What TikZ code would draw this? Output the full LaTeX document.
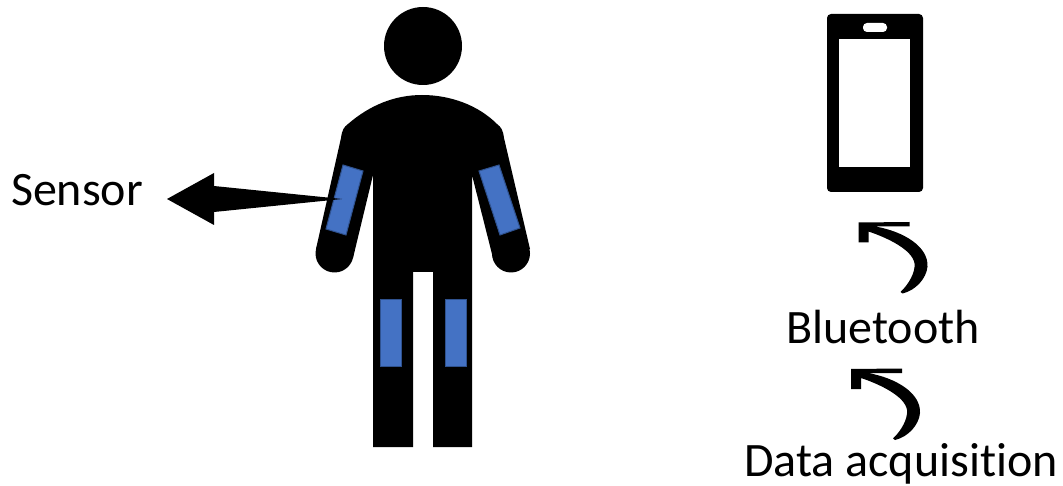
\documentclass[tikz,border=0pt]{standalone}
\usepackage{fontspec}
\setmainfont[Ligatures=CommonOff]{Carlito}
\tikzset{
  lbl/.style={inner sep=0pt,anchor=base,font=\fontsize{48}{48}\selectfont,text=black},
  sensorpatch/.style={fill=sensorblue,draw=sensoredge,line width=1pt},
  ink/.style={fill=black,draw=none}
}
\definecolor{sensorblue}{HTML}{4472C4}
\definecolor{sensoredge}{HTML}{2F528F}
\newcommand{\curvedarrow}{%
  (0,0) -- (51,-0.5) -- (51,4) -- (17,4)
  .. controls (45,9) and (70,24) .. (69,44)
  .. controls (68,56) and (57,68) .. (44,71)
  -- (42,69.5)
  .. controls (50,62) and (57,50) .. (56,41)
  .. controls (54,27) and (28,15) .. (10,9)
  -- (10,20) -- (0,20) -- cycle}
\begin{document}
\begin{tikzpicture}[x=1pt,y=-1pt]
\useasboundingbox (0,0) rectangle (1063,486);
% person
\fill[ink] (423,46) circle (39);
\fill[ink] (334.5,253.5) circle (19);
\fill[ink] (511,253.5) circle (19);
\fill[ink] (373,447) -- (373,175) -- (353,258) -- (316,249)
  -- (341,138) .. controls (342,130) and (344,127) .. (348,124)
  .. controls (370,105) and (395,95) .. (422,95)
  .. controls (450,95) and (478,105) .. (497,124)
  .. controls (501,127) and (503,130) .. (504,138)
  -- (530,249) -- (493,258)
  -- (472,175) -- (472,447) -- (433,447) -- (433,272) -- (413,272) -- (413,447) -- cycle;
% sensors
\draw[sensorpatch] (343,165) -- (363,171) -- (346,235) -- (326,229) -- cycle;
\draw[sensorpatch] (479,171) -- (499,165) -- (520,228) -- (500,235) -- cycle;
\draw[sensorpatch] (380,300) rectangle (401,366);
\draw[sensorpatch] (445,300) rectangle (466,366);
% pointer
\fill[ink] (167,199) -- (214,173) -- (214,186) -- (342,199) -- (214,212) -- (214,225) -- cycle;
% phone
\fill[ink,rounded corners=4pt] (827,14) rectangle (923,192);
\fill[white] (839,39) rectangle (910,167);
\fill[white,rounded corners=4pt] (863,23) rectangle (887,32);
% curved arrows
\begin{scope}[shift={(858.5,222.5)}]\fill[ink] \curvedarrow;\end{scope}
\begin{scope}[shift={(851,369)}]\fill[ink] \curvedarrow;\end{scope}
% labels
\node[lbl] (sensor) at (77,206) {Sensor};
\node[lbl] (bluetooth) at (883,343) {Bluetooth};
\node[lbl] (daq) at (901,476) {Data acquisition};
\end{tikzpicture}
\end{document}
